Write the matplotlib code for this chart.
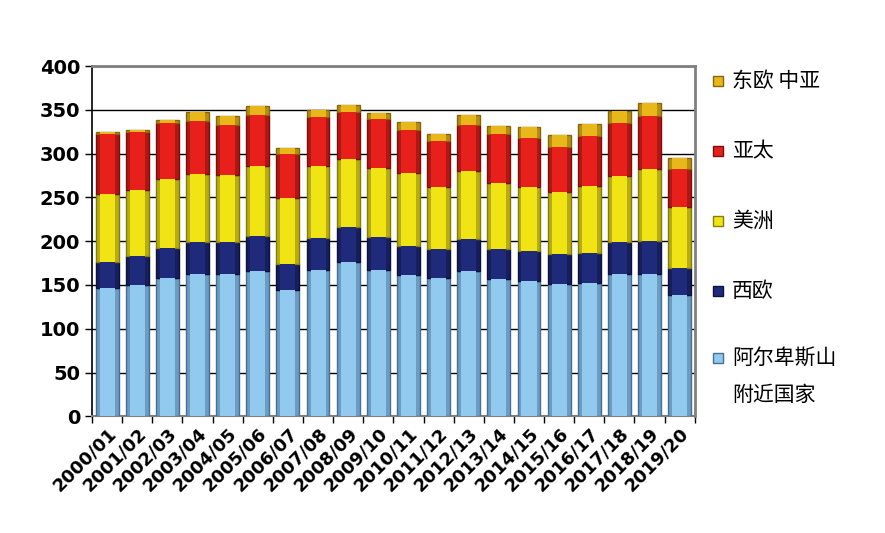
import matplotlib
matplotlib.use("Agg")
import matplotlib.pyplot as plt
import numpy as np

seasons = ["2000/01", "2001/02", "2002/03", "2003/04", "2004/05", "2005/06", "2006/07",
           "2007/08", "2008/09", "2009/10", "2010/11", "2011/12", "2012/13", "2013/14",
           "2014/15", "2015/16", "2016/17", "2017/18", "2018/19", "2019/20"]
# millions of skier visits, stacked bottom -> top
alps = [146, 150, 158, 162, 162, 166, 144, 167, 176, 167, 161, 158, 166, 157, 155, 151, 152, 162, 163, 138]
west_europe = [30, 33, 34, 37, 37, 40, 30, 37, 40, 38, 34, 33, 36, 34, 34, 34, 35, 37, 37, 31]
americas = [78, 76, 79, 78, 77, 80, 75, 82, 78, 79, 83, 71, 78, 76, 73, 71, 76, 76, 83, 70]
asia_pacific = [69, 66, 64, 60, 57, 58, 51, 56, 54, 55, 49, 52, 53, 55, 56, 52, 57, 60, 60, 43]
east_europe = [2, 2, 3, 10, 10, 10, 6, 8, 7, 7, 9, 9, 11, 10, 12, 13, 14, 14, 15, 13]

series = [alps, west_europe, americas, asia_pacific, east_europe]
labels = ["阿尔卑斯山", "西欧", "美洲", "亚太", "东欧 中亚"]
colors = ["#92c9ee", "#1f2a7a", "#f0e414", "#e8201c", "#e8b81a"]
shades = ["#6a9cc4", "#161f5c", "#b8ad10", "#b01612", "#b88e12"]
edges = ["#4a7090", "#0c1240", "#857d0c", "#7a100c", "#85660c"]

fig = plt.figure(figsize=(8.85, 5.33), dpi=100)
ax = fig.add_axes([0.104, 0.219, 0.681, 0.657])

x = np.arange(len(seasons))
bottom = np.zeros(len(seasons))
for vals, c, sh, ec in zip(series, colors, shades, edges):
    vals = np.array(vals, dtype=float)
    # darker outer part and a lighter middle to hint at the bevelled look
    ax.bar(x, vals, 0.76, bottom=bottom, color=sh, edgecolor=ec, linewidth=1.0, zorder=3)
    ax.bar(x, vals, 0.5, bottom=bottom, color=c, linewidth=0, zorder=4)
    bottom += vals

ax.set_xlim(-0.5, len(seasons) - 0.5)
ax.set_ylim(0, 400)
ax.set_yticks(range(0, 401, 50))
ax.yaxis.grid(True, color="black", linewidth=1.0, zorder=0)
ax.set_axisbelow(True)

ax.set_xticks(x)
ax.set_xticklabels(seasons, rotation=45, ha="right", rotation_mode="anchor",
                   fontsize=13, fontweight="bold")
ax.set_xticks(np.arange(-0.5, len(seasons)), minor=True)
ax.tick_params(axis="x", which="major", length=0, pad=6)
ax.tick_params(axis="x", which="minor", length=5, width=1, direction="out")
ax.tick_params(axis="y", length=5, width=1, labelsize=14)
for t in ax.get_yticklabels():
    t.set_fontweight("bold")

for side in ["top", "right"]:
    ax.spines[side].set_color("#808080")
    ax.spines[side].set_linewidth(2)
ax.spines["left"].set_linewidth(1.2)
ax.spines["bottom"].set_color("#808080")
ax.spines["bottom"].set_linewidth(1.5)

# legend drawn by hand to keep the wide spacing of the original
cjk = ["Noto Sans CJK SC", "DejaVu Sans"]
legend_y = [81, 151, 221, 291, 358]
for lab, c, ec, yy in zip(labels[::-1], colors[::-1], edges[::-1], legend_y):
    yf = 1 - yy / 533
    fig.patches.append(plt.Rectangle((713 / 885, yf - 5 / 533), 10 / 885, 10 / 533,
                                     transform=fig.transFigure, facecolor=c,
                                     edgecolor=ec, linewidth=1))
    fig.text(732 / 885, yf, lab, fontsize=15, va="center", family=cjk)
fig.text(732 / 885, 1 - 395 / 533, "附近国家", fontsize=15, va="center", family=cjk)

fig.savefig("out.png", dpi=100)
